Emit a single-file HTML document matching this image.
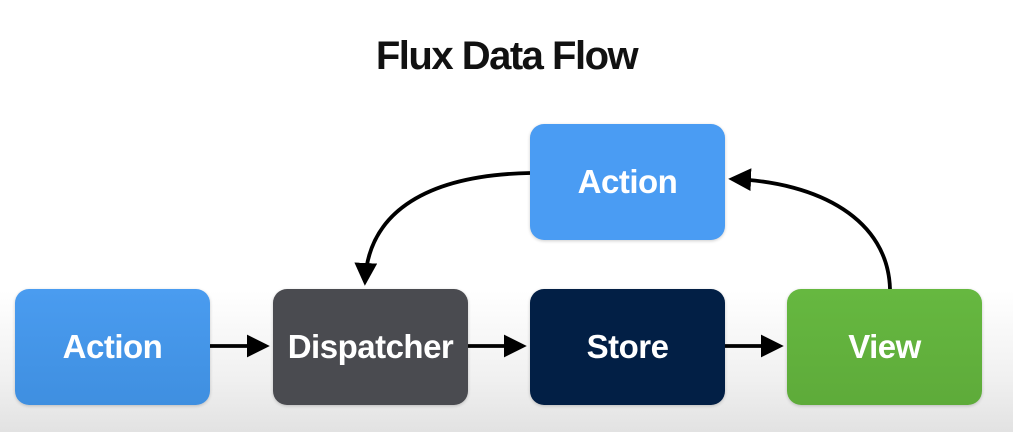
<!DOCTYPE html>
<html><head><style>
body{margin:0;width:1013px;height:432px;overflow:hidden;background:linear-gradient(to bottom,#fff 0,#fff 290px,#f0f0f0 380px,#e2e2e2 432px);font-family:"Liberation Sans",sans-serif;position:relative}
.t{position:absolute;left:0;width:1013px;top:34px;text-align:center;font-size:40px;color:#111;letter-spacing:-1.5px;font-weight:bold;-webkit-text-stroke:0}
.b{position:absolute;width:195px;height:116px;border-radius:14px;color:#fff;font-weight:bold;font-size:33px;display:flex;align-items:center;justify-content:center;box-shadow:0 1px 3px rgba(0,0,0,.2);letter-spacing:-0.5px}
svg{position:absolute;left:0;top:0}
</style></head><body>
<div class="t">Flux Data Flow</div>
<svg width="1013" height="432">
<defs><marker id="a" markerWidth="6" markerHeight="6" refX="5" refY="3" orient="auto" markerUnits="strokeWidth"><path d="M0,0 L6,3 L0,6 z" fill="#000"/></marker></defs>
<g stroke="#000" stroke-width="3.8" fill="none">
<line x1="210" y1="346" x2="266" y2="346" marker-end="url(#a)"/>
<line x1="467" y1="346" x2="523" y2="346" marker-end="url(#a)"/>
<line x1="724" y1="346" x2="780" y2="346" marker-end="url(#a)"/>
<path d="M530,173 C430,175 368,210 365,282" marker-end="url(#a)"/>
<path d="M890,289 C888,220 820,182 732,179" marker-end="url(#a)"/>
</g></svg>
<div class="b" style="left:15px;top:289px;background:linear-gradient(#4a9cf0,#3f8fe0)">Action</div>
<div class="b" style="left:273px;top:289px;background:#4a4b50">Dispatcher</div>
<div class="b" style="left:530px;top:289px;background:#021f45">Store</div>
<div class="b" style="left:787px;top:289px;background:linear-gradient(#66b840,#5eab3a)">View</div>
<div class="b" style="left:530px;top:124px;background:#4a9cf3">Action</div>
</body></html>
